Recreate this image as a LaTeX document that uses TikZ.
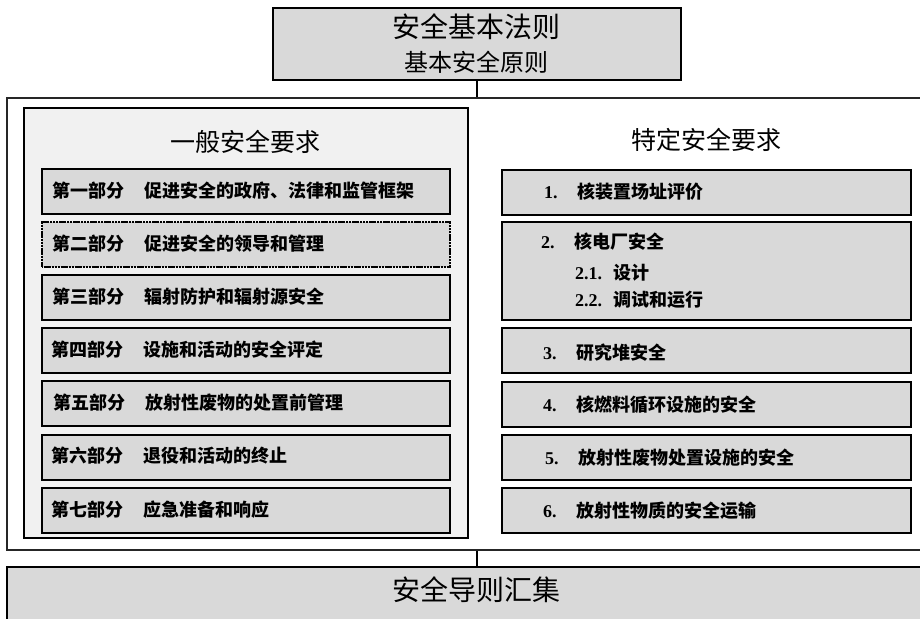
\documentclass[tikz,border=0pt]{standalone}
\usepackage{fontspec}
\newfontfamily\cjk{Noto Sans CJK SC}
\newfontfamily\numf{Liberation Serif}
\definecolor{boxgray}{HTML}{D9D9D9}
\definecolor{panelgray}{HTML}{F1F1F1}
\tikzset{
  box/.style={draw=black, fill=boxgray, line width=2.4pt, inner sep=0pt, anchor=north west},
  outerbox/.style={draw=black!85, fill=white, line width=1.6pt, inner sep=0pt, anchor=north west},
  panel/.style={draw=black, fill=panelgray, line width=2pt, inner sep=0pt, anchor=north west},
  topbox/.style={draw=black, fill=boxgray, line width=2pt, inner sep=0pt, anchor=north west},
  item/.style={anchor=west, inner sep=0pt, font=\cjk\bfseries\fontsize{18}{21}\selectfont},
  ritem/.style={anchor=west, inner sep=0pt, font=\cjk\bfseries\fontsize{18}{21}\selectfont},
  title/.style={inner sep=0pt, font=\cjk\fontsize{25}{30}\selectfont},
  conn/.style={draw=black, line width=1.6pt},
}
\newcommand{\lab}[2]{\makebox[92pt][l]{#1}#2}
\newcommand{\rlab}[2]{\makebox[33pt][l]{{\numf\bfseries #1}}#2}
\newcommand{\slab}[2]{\makebox[38pt][l]{{\numf\bfseries #1}}#2}
\begin{document}
\begin{tikzpicture}[x=1pt,y=-1pt]
\useasboundingbox (0,0) rectangle (920,618);
\clip (0,0) rectangle (920,618);
\fill[white] (0,0) rectangle (920,618);
% outer frame
\node[outerbox, minimum width=930pt, minimum height=452pt] (outer) at (6,97) {};
% top box
\node[topbox, minimum width=408pt, minimum height=72pt] (top) at (272,7) {};
\node[title, font=\cjk\fontsize{28}{32}\selectfont] (t1) at (476,27) {安全基本法则};
\node[title, font=\cjk\fontsize{24}{28}\selectfont] (t2) at (476,62) {基本安全原则};
% bottom box
\node[box, line width=2pt, minimum width=930pt, minimum height=70pt] (bottom) at (6,566) {};
\node[title, font=\cjk\fontsize{28}{32}\selectfont] (t3) at (476,590) {安全导则汇集};
% connectors
\draw[conn] (top.south) -- (top.south |- outer.north);
\draw[conn] (top.south |- outer.south) -- (top.south |- bottom.north);
% left panel
\node[panel, minimum width=444pt, minimum height=430pt] (panel) at (23,107) {};
\node[title] (lt) at (245,142) {一般安全要求};
\node[title] (rt) at (706,140) {特定安全要求};
% left items
\node[box, minimum width=408pt, minimum height=45pt] (l1) at (41,168) {};
\node[box, minimum width=408pt, minimum height=45pt, dash pattern=on 1.2pt off 0.35pt] (l2) at (41,221) {};
\node[box, minimum width=408pt, minimum height=45pt] (l3) at (41,274) {};
\node[box, minimum width=408pt, minimum height=45pt] (l4) at (41,327) {};
\node[box, minimum width=408pt, minimum height=45pt] (l5) at (41,380) {};
\node[box, minimum width=408pt, minimum height=45pt] (l6) at (41,434) {};
\node[box, minimum width=408pt, minimum height=45pt] (l7) at (41,487) {};
\node[item] (l1t) at (52,191) {\lab{第一部分}{促进安全的政府、法律和监管框架}};
\node[item] (l2t) at (52,244) {\lab{第二部分}{促进安全的领导和管理}};
\node[item] (l3t) at (52,297) {\lab{第三部分}{辐射防护和辐射源安全}};
\node[item] (l4t) at (51,350) {\lab{第四部分}{设施和活动的安全评定}};
\node[item] (l5t) at (53,403) {\lab{第五部分}{放射性废物的处置前管理}};
\node[item] (l6t) at (51,456) {\lab{第六部分}{退役和活动的终止}};
\node[item] (l7t) at (51,510) {\lab{第七部分}{应急准备和响应}};
% right items
\node[box, minimum width=409pt, minimum height=45pt] (r1) at (501,169) {};
\node[box, minimum width=409pt, minimum height=98pt] (r2) at (501,221) {};
\node[box, minimum width=409pt, minimum height=45pt] (r3) at (501,327) {};
\node[box, minimum width=409pt, minimum height=45pt] (r4) at (501,381) {};
\node[box, minimum width=409pt, minimum height=45pt] (r5) at (501,434) {};
\node[box, minimum width=409pt, minimum height=45pt] (r6) at (501,487) {};
\node[ritem] (r1t) at (544,192) {\rlab{1.}{核装置场址评价}};
\node[ritem] (r2t) at (541,242) {\rlab{2.}{核电厂安全}};
\node[ritem] (r21t) at (575,273) {\slab{2.1.}{设计}};
\node[ritem] (r22t) at (575,300) {\slab{2.2.}{调试和运行}};
\node[ritem] (r3t) at (543,353) {\rlab{3.}{研究堆安全}};
\node[ritem] (r4t) at (543,405) {\rlab{4.}{核燃料循环设施的安全}};
\node[ritem] (r5t) at (545,458) {\rlab{5.}{放射性废物处置设施的安全}};
\node[ritem] (r6t) at (543,511) {\rlab{6.}{放射性物质的安全运输}};
\end{tikzpicture}
\end{document}
